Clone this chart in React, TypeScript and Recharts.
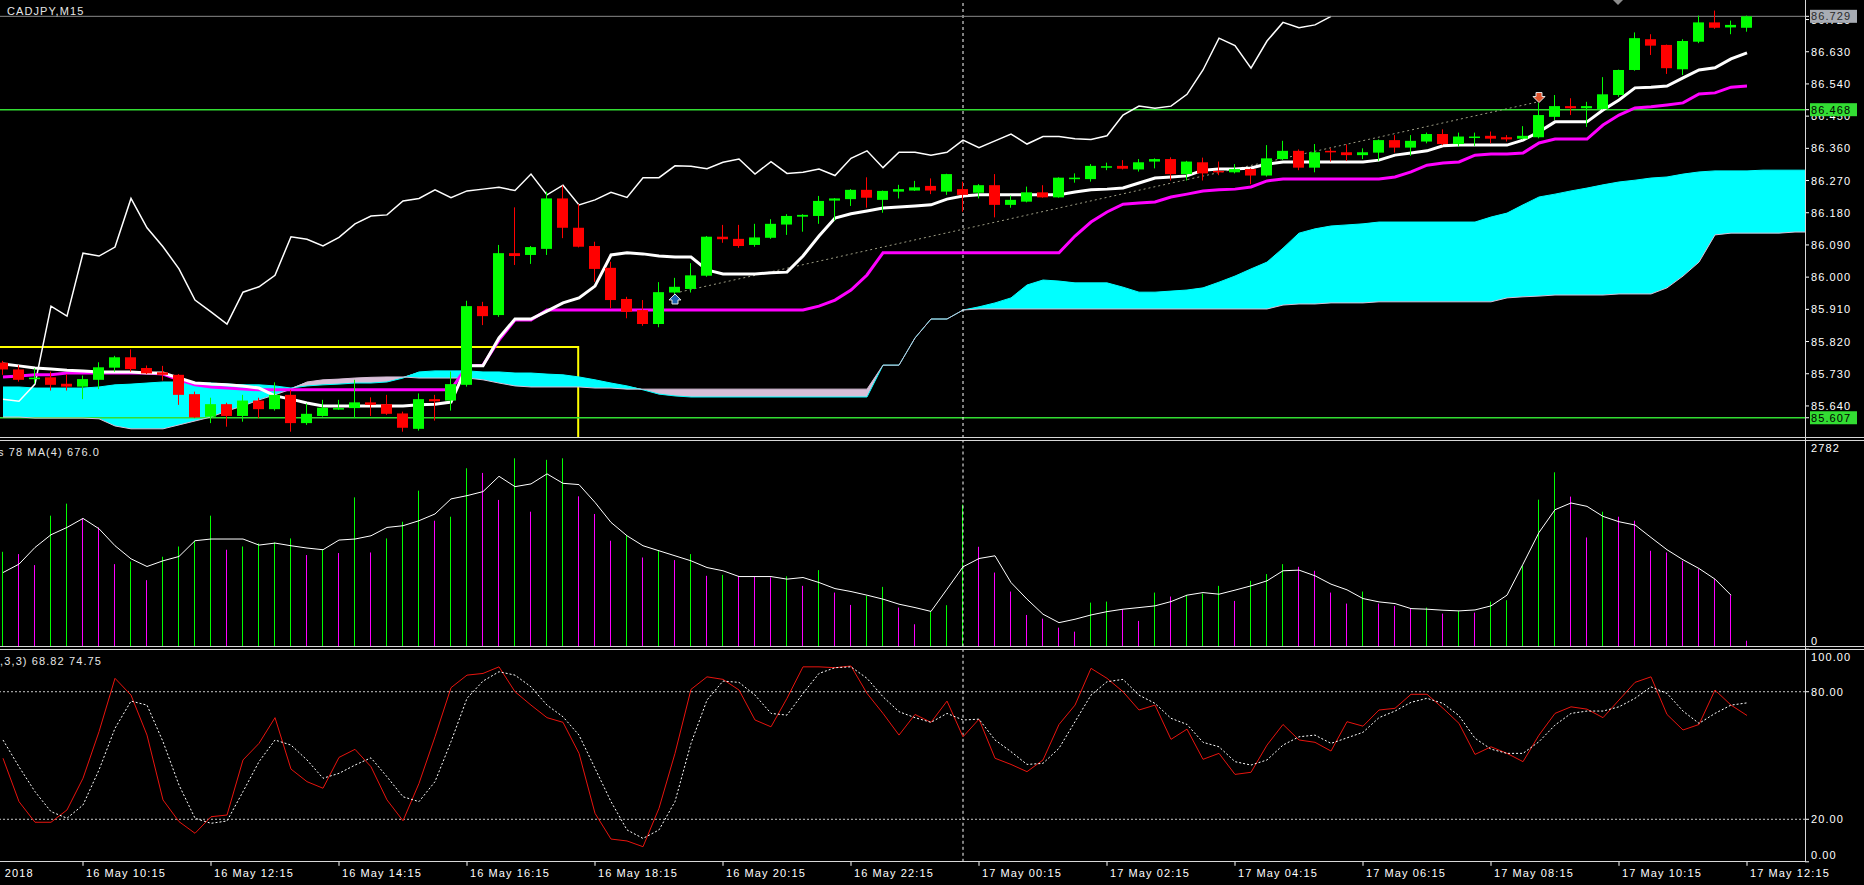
import React from 'react'
import {
  ComposedChart,
  Bar,
  Line,
  Area,
  XAxis,
  YAxis,
  ReferenceLine,
  ReferenceArea,
  ReferenceDot,
} from 'recharts'

// CADJPY M15, bars 16 May 09:00 .. 17 May 12:15 (index 0..109), cloud runs to 113
const OPEN = [
  85.761, 85.742, 85.717, 85.72, 85.702, 85.694, 85.713, 85.747, 85.776, 85.746,
  85.734, 85.727, 85.673, 85.61, 85.645, 85.612, 85.655, 85.631, 85.671, 85.592,
  85.612, 85.631, 85.634, 85.65, 85.645, 85.619, 85.576, 85.659, 85.655, 85.699,
  85.919, 85.894, 86.067, 86.062, 86.079, 86.22, 86.138, 86.087, 86.026, 85.939,
  85.908, 85.869, 85.957, 85.967, 86.004, 86.113, 86.107, 86.09, 86.11, 86.147,
  86.169, 86.171, 86.214, 86.218, 86.244, 86.216, 86.239, 86.242, 86.255, 86.239,
  86.246, 86.236, 86.257, 86.202, 86.211, 86.237, 86.223, 86.275, 86.274, 86.308,
  86.311, 86.301, 86.323, 86.33, 86.288, 86.321, 86.297, 86.293, 86.302, 86.284,
  86.33, 86.353, 86.306, 86.353, 86.349, 86.341, 86.348, 86.383, 86.362, 86.379,
  86.4, 86.372, 86.389, 86.395, 86.391, 86.387, 86.391, 86.448, 86.478, 86.472,
  86.47, 86.509, 86.579, 86.665, 86.649, 86.581, 86.658, 86.712, 86.698, 86.697,
]
const HIGH = [
  85.766, 85.754, 85.745, 85.736, 85.729, 85.725, 85.762, 85.78, 85.798, 85.753,
  85.752, 85.729, 85.68, 85.663, 85.649, 85.671, 85.663, 85.706, 85.685, 85.647,
  85.657, 85.657, 85.713, 85.664, 85.671, 85.624, 85.675, 85.671, 85.736, 85.934,
  85.931, 86.09, 86.195, 86.087, 86.239, 86.256, 86.204, 86.099, 86.043, 85.945,
  85.936, 85.986, 85.998, 86.039, 86.115, 86.146, 86.146, 86.149, 86.162, 86.176,
  86.176, 86.227, 86.221, 86.246, 86.279, 86.242, 86.258, 86.269, 86.276, 86.289,
  86.267, 86.26, 86.288, 86.228, 86.253, 86.257, 86.279, 86.29, 86.316, 86.32,
  86.327, 86.33, 86.332, 86.335, 86.325, 86.334, 86.323, 86.316, 86.304, 86.369,
  86.381, 86.357, 86.372, 86.36, 86.371, 86.36, 86.385, 86.397, 86.397, 86.404,
  86.413, 86.404, 86.404, 86.407, 86.397, 86.422, 86.487, 86.509, 86.5, 86.49,
  86.559, 86.58, 86.684, 86.679, 86.65, 86.665, 86.731, 86.745, 86.717, 86.731,
]
const LOW = [
  85.727, 85.708, 85.703, 85.683, 85.683, 85.659, 85.687, 85.736, 85.736, 85.729,
  85.711, 85.643, 85.606, 85.592, 85.582, 85.596, 85.606, 85.627, 85.568, 85.587,
  85.61, 85.629, 85.606, 85.612, 85.615, 85.568, 85.571, 85.599, 85.627, 85.694,
  85.866, 85.889, 86.034, 86.037, 86.062, 86.109, 86.083, 85.987, 85.913, 85.885,
  85.864, 85.86, 85.95, 85.957, 86.001, 86.096, 86.082, 86.085, 86.107, 86.118,
  86.127, 86.149, 86.158, 86.199, 86.194, 86.18, 86.22, 86.241, 86.232, 86.23,
  86.183, 86.22, 86.167, 86.194, 86.209, 86.222, 86.222, 86.264, 86.267, 86.299,
  86.301, 86.295, 86.304, 86.27, 86.27, 86.27, 86.285, 86.29, 86.26, 86.281,
  86.327, 86.299, 86.293, 86.323, 86.325, 86.33, 86.325, 86.348, 86.339, 86.374,
  86.369, 86.365, 86.367, 86.374, 86.379, 86.385, 86.388, 86.439, 86.453, 86.42,
  86.469, 86.504, 86.577, 86.621, 86.568, 86.565, 86.654, 86.694, 86.679, 86.686,
]
const CLOSE = [
  85.742, 85.713, 85.719, 85.699, 85.694, 85.715, 85.748, 85.776, 85.743, 85.731,
  85.727, 85.671, 85.608, 85.645, 85.612, 85.655, 85.631, 85.671, 85.592, 85.618,
  85.635, 85.634, 85.65, 85.643, 85.618, 85.579, 85.659, 85.653, 85.701, 85.919,
  85.891, 86.067, 86.059, 86.084, 86.22, 86.138, 86.085, 86.023, 85.936, 85.903,
  85.869, 85.958, 85.973, 86.005, 86.113, 86.106, 86.087, 86.111, 86.149, 86.171,
  86.174, 86.213, 86.22, 86.244, 86.222, 86.241, 86.246, 86.251, 86.242, 86.288,
  86.23, 86.257, 86.202, 86.216, 86.237, 86.223, 86.278, 86.278, 86.311, 86.31,
  86.303, 86.321, 86.33, 86.288, 86.323, 86.29, 86.293, 86.302, 86.284, 86.332,
  86.353, 86.306, 86.349, 86.349, 86.341, 86.349, 86.383, 86.362, 86.381, 86.4,
  86.372, 86.393, 86.393, 86.387, 86.385, 86.395, 86.453, 86.478, 86.472, 86.478,
  86.511, 86.579, 86.668, 86.647, 86.584, 86.66, 86.712, 86.697, 86.705, 86.729,
]

// Ichimoku
const TENKAN = [
  85.757, 85.752, 85.746, 85.743, 85.74, 85.738, 85.735, 85.735, 85.735, 85.732,
  85.732, 85.718, 85.704, 85.701, 85.699, 85.696, 85.69, 85.668, 85.659, 85.648,
  85.64, 85.64, 85.64, 85.64, 85.64, 85.64, 85.643, 85.645, 85.651, 85.752,
  85.752, 85.83, 85.883, 85.883, 85.905, 85.928, 85.942, 85.975, 86.062, 86.068,
  86.065, 86.059, 86.056, 86.056, 86.02, 86.009, 86.009, 86.009, 86.012, 86.014,
  86.059, 86.115, 86.165, 86.177, 86.185, 86.193, 86.196, 86.199, 86.202, 86.218,
  86.227, 86.23, 86.23, 86.23, 86.23, 86.23, 86.23, 86.238, 86.244, 86.246,
  86.249, 86.263, 86.277, 86.28, 86.283, 86.299, 86.302, 86.302, 86.305, 86.316,
  86.322, 86.322, 86.322, 86.322, 86.322, 86.322, 86.327, 86.341, 86.347, 86.353,
  86.367, 86.369, 86.369, 86.369, 86.369, 86.383, 86.406, 86.434, 86.434, 86.434,
  86.467, 86.495, 86.529, 86.531, 86.534, 86.557, 86.579, 86.585, 86.61, 86.627,
]
const KIJUN = [
  85.721, 85.724, 85.727, 85.727, 85.732, 85.732, 85.732, 85.732, 85.732, 85.732,
  85.729, 85.713, 85.699, 85.693, 85.69, 85.687, 85.685, 85.685, 85.685, 85.685,
  85.685, 85.685, 85.685, 85.685, 85.685, 85.685, 85.685, 85.685, 85.685, 85.752,
  85.754, 85.824, 85.88, 85.88, 85.908, 85.908, 85.908, 85.908, 85.908, 85.908,
  85.908, 85.908, 85.908, 85.908, 85.908, 85.908, 85.908, 85.908, 85.908, 85.908,
  85.908, 85.919, 85.936, 85.964, 86.006, 86.068, 86.068, 86.068, 86.068, 86.068,
  86.068, 86.068, 86.068, 86.068, 86.068, 86.068, 86.068, 86.115, 86.154, 86.182,
  86.204, 86.207, 86.21, 86.224, 86.232, 86.241, 86.244, 86.246, 86.252, 86.269,
  86.274, 86.274, 86.274, 86.274, 86.274, 86.274, 86.274, 86.28, 86.294, 86.313,
  86.319, 86.322, 86.341, 86.344, 86.344, 86.347, 86.375, 86.386, 86.386, 86.386,
  86.425, 86.453, 86.473, 86.476, 86.481, 86.487, 86.512, 86.515, 86.531, 86.534,
]
const CHIKOU = [
  85.659, 85.653, 85.701, 85.919, 85.891, 86.067, 86.059, 86.084, 86.22, 86.138,
  86.085, 86.023, 85.936, 85.903, 85.869, 85.958, 85.973, 86.005, 86.113, 86.106,
  86.087, 86.111, 86.149, 86.171, 86.174, 86.213, 86.22, 86.244, 86.222, 86.241,
  86.246, 86.251, 86.242, 86.288, 86.23, 86.257, 86.202, 86.216, 86.237, 86.223,
  86.278, 86.278, 86.311, 86.31, 86.303, 86.321, 86.33, 86.288, 86.323, 86.29,
  86.293, 86.302, 86.284, 86.332, 86.353, 86.306, 86.349, 86.349, 86.341, 86.349,
  86.383, 86.362, 86.381, 86.4, 86.372, 86.393, 86.393, 86.387, 86.385, 86.395,
  86.453, 86.478, 86.472, 86.478, 86.511, 86.579, 86.668, 86.647, 86.584, 86.66,
  86.712, 86.697, 86.705, 86.729,
]
const SPAN_A = [
  85.693, 85.693, 85.69, 85.69, 85.69, 85.69, 85.693, 85.699, 85.701, 85.704,
  85.707, 85.707, 85.704, 85.704, 85.701, 85.699, 85.699, 85.696, 85.69, 85.696,
  85.699, 85.701, 85.704, 85.704, 85.707, 85.718, 85.735, 85.738, 85.738, 85.738,
  85.735, 85.735, 85.732, 85.732, 85.729, 85.727, 85.721, 85.713, 85.704, 85.696,
  85.685, 85.673, 85.668, 85.665, 85.665, 85.665, 85.665, 85.665, 85.665, 85.665,
  85.665, 85.665, 85.665, 85.665, 85.665, 85.754, 85.754, 85.83, 85.883, 85.883,
  85.908, 85.917, 85.928, 85.942, 85.978, 85.992, 85.989, 85.984, 85.984, 85.984,
  85.972, 85.958, 85.958, 85.961, 85.964, 85.97, 85.986, 86.003, 86.023, 86.042,
  86.081, 86.123, 86.135, 86.143, 86.146, 86.149, 86.154, 86.154, 86.154, 86.154,
  86.154, 86.154, 86.154, 86.168, 86.179, 86.202, 86.224, 86.232, 86.241, 86.249,
  86.258, 86.266, 86.271, 86.277, 86.28, 86.288, 86.294, 86.297, 86.297, 86.297,
  86.299, 86.299, 86.299, 86.299,
]
const SPAN_B = [
  85.609, 85.609, 85.606, 85.606, 85.606, 85.606, 85.604, 85.584, 85.576, 85.576,
  85.576, 85.587, 85.598, 85.609, 85.626, 85.64, 85.657, 85.671, 85.687, 85.707,
  85.713, 85.715, 85.718, 85.72, 85.721, 85.721, 85.718, 85.718, 85.718, 85.718,
  85.713, 85.704, 85.696, 85.693, 85.693, 85.693, 85.693, 85.69, 85.69, 85.687,
  85.687, 85.687, 85.687, 85.687, 85.687, 85.687, 85.687, 85.687, 85.687, 85.687,
  85.687, 85.687, 85.687, 85.687, 85.687, 85.754, 85.754, 85.83, 85.883, 85.883,
  85.908, 85.911, 85.911, 85.911, 85.911, 85.911, 85.911, 85.911, 85.911, 85.911,
  85.911, 85.911, 85.911, 85.911, 85.911, 85.911, 85.911, 85.911, 85.911, 85.911,
  85.922, 85.925, 85.925, 85.928, 85.928, 85.928, 85.931, 85.931, 85.931, 85.931,
  85.931, 85.931, 85.931, 85.931, 85.942, 85.945, 85.947, 85.95, 85.95, 85.95,
  85.95, 85.953, 85.953, 85.953, 85.97, 86.003, 86.042, 86.118, 86.123, 86.123,
  86.123, 86.123, 86.126, 86.126,
]

// Volumes + MA(4)
const VOLUME = [
  1282, 1251, 1102, 1771, 1934, 1734, 1612, 1115, 1151, 898,
  1215, 1354, 1432, 1771, 1310, 1354, 1395, 1409, 1463, 1238,
  1319, 1265, 2019, 1273, 1463, 1689, 2110, 1703, 1757, 2413,
  2350, 1984, 2548, 1825, 2527, 2548, 2033, 1794, 1432, 1509,
  1205, 1305, 1170, 1251, 957, 970, 955, 945, 935, 950,
  821, 1034, 730, 563, 685, 807, 527, 301, 472, 559,
  1920, 1350, 1001, 744, 427, 377, 255, 201, 594, 608,
  505, 346, 730, 676, 699, 716, 821, 617, 889, 980,
  1115, 1079, 1025, 730, 581, 744, 581, 550, 513, 527,
  445, 482, 459, 608, 627, 1092, 1988, 2358, 2029, 1476,
  1825, 1757, 1703, 1296, 1273, 1160, 1048, 912, 695, 78,
]
const VOLUME_MA = [
  1001, 1115, 1341, 1513, 1612, 1734, 1594, 1364, 1187, 1083,
  1160, 1219, 1432, 1455, 1455, 1455, 1373, 1400, 1364, 1333,
  1310, 1441, 1455, 1499, 1612, 1635, 1703, 1794, 1998, 2042,
  2097, 2304, 2164, 2201, 2337, 2209, 2192, 1951, 1680, 1499,
  1364, 1296, 1228, 1160, 1069, 1025, 947, 947, 947, 912,
  934, 866, 784, 744, 695, 641, 573, 527, 475, 776,
  1079, 1191, 1228, 866, 641, 437, 323, 369, 427, 472,
  505, 527, 550, 608, 695, 730, 708, 763, 821, 889,
  1025, 1034, 957, 844, 767, 649, 604, 581, 513, 505,
  491, 482, 495, 550, 695, 1115, 1544, 1852, 1943, 1897,
  1761, 1689, 1645, 1476, 1310, 1174, 1056, 912, 695,
]

// Stochastic (5,3,3)
const STOCH_MAIN = [
  48.7, 28.3, 18.6, 18.6, 24.4, 39.3, 61.2, 86.3, 78.4, 59.6,
  29.1, 18.9, 13.4, 21.2, 22.0, 47.9, 55.7, 67.8, 43.6, 37.7,
  34.6, 49.1, 52.9, 44.7, 29.1, 19.3, 36.9, 58.8, 81.9, 87.8,
  88.6, 91.7, 80.0, 73.7, 67.8, 65.6, 51.0, 22.8, 10.7, 9.8,
  7.1, 25.2, 51.0, 81.1, 87.0, 85.8, 80.8, 66.7, 63.5, 76.9,
  91.7, 91.7, 91.3, 92.1, 79.2, 69.8, 59.6, 69.3, 65.6, 75.6,
  58.8, 67.1, 48.7, 45.8, 42.4, 47.9, 64.6, 73.7, 91.0, 86.3,
  80.0, 71.4, 73.7, 57.6, 62.4, 48.2, 51.0, 41.1, 42.1, 54.9,
  64.6, 57.3, 56.2, 52.1, 65.9, 63.8, 71.4, 72.2, 78.8, 78.8,
  72.2, 65.1, 50.5, 54.1, 51.0, 47.1, 59.6, 69.8, 72.9, 71.8,
  67.8, 76.1, 84.4, 87.0, 69.3, 62.0, 64.6, 80.8, 73.7, 68.82,
]
const STOCH_SIGNAL = [
  57.3, 44.7, 33.0, 23.6, 20.5, 26.7, 43.2, 62.8, 75.6, 73.7,
  56.5, 36.1, 20.5, 18.1, 19.2, 33.0, 47.1, 57.3, 54.9, 47.9,
  39.3, 41.6, 45.5, 48.9, 40.0, 30.6, 28.3, 37.7, 56.5, 76.9,
  85.0, 89.4, 87.8, 82.3, 73.7, 68.2, 59.6, 44.0, 28.3, 15.0,
  11.0, 15.0, 28.3, 55.7, 76.1, 85.0, 84.4, 78.4, 69.8, 69.0,
  79.2, 88.6, 91.3, 91.7, 86.3, 77.6, 70.6, 67.8, 65.6, 69.8,
  66.7, 67.1, 57.3, 51.8, 45.8, 46.3, 53.4, 65.9, 78.4, 84.7,
  85.8, 78.4, 74.5, 67.5, 64.6, 56.2, 54.1, 47.1, 45.5, 47.9,
  54.9, 58.8, 59.6, 55.7, 58.3, 60.9, 67.8, 70.9, 75.0, 76.9,
  74.5, 68.7, 58.1, 53.0, 51.0, 51.0, 56.5, 64.3, 69.8, 70.9,
  70.9, 72.9, 76.9, 82.3, 79.2, 70.9, 65.1, 69.8, 73.7, 74.75,
]

const PRICE_TICKS = [86.72, 86.63, 86.54, 86.45, 86.36, 86.27, 86.18, 86.09, 86.0, 85.91, 85.82, 85.73, 85.64]
const TIME_TICKS = [-3, 5, 13, 21, 29, 37, 45, 53, 61, 69, 77, 85, 93, 101, 109]
const TIME_TEXT = [
  '16 May 2018', '16 May 10:15', '16 May 12:15', '16 May 14:15', '16 May 16:15',
  '16 May 18:15', '16 May 20:15', '16 May 22:15', '17 May 00:15', '17 May 02:15',
  '17 May 04:15', '17 May 06:15', '17 May 08:15', '17 May 10:15', '17 May 12:15',
]

const BID = 86.729
const LEVEL_HI = 86.468
const LEVEL_LO = 85.607
const BOX_TOP = 85.805
const BOX_END = 35.95
const DAY_SEP = 60
const TREND = [
  { x: 42.3, y: 85.9585 },
  { x: 95.9, y: 86.4895 },
]
const BUY_ARROW = { x: 42, y: 85.939 }
const SELL_ARROW = { x: 96, y: 86.502 }

const W = 1864
const PLOT_R = 1805
const AXIS_W = W - PLOT_R
const X_DOMAIN: [number, number] = [-0.1875, 112.625]
const PRICE_DOMAIN: [number, number] = [85.5504, 86.7746]
const VOL_MAX = 2782

const UP = '#00ff00'
const DOWN = '#ff0000'
const AQUA = '#00ffff'
const THISTLE = '#d8bfd8'
const LEVEL_GREEN = '#33dd33'
const FONT = '"Liberation Sans", Arial, sans-serif'
const SPACING = 1.1

// price tags drawn on the axis, last so they sit over the plain tick labels
const TAGS = [
  { value: LEVEL_LO, bg: LEVEL_GREEN, fg: '#000' },
  { value: LEVEL_HI, bg: LEVEL_GREEN, fg: '#000' },
  { value: BID, bg: '#a8acb4', fg: '#2a2a2a' },
]
const AXIS_TICKS = [...PRICE_TICKS, ...TAGS.map((t) => t.value)]

const mainData = SPAN_A.map((a, i) => ({
  i,
  o: OPEN[i] ?? null,
  h: HIGH[i] ?? null,
  l: LOW[i] ?? null,
  c: CLOSE[i] ?? null,
  tenkan: TENKAN[i] ?? null,
  kijun: KIJUN[i] ?? null,
  chikou: CHIKOU[i] ?? null,
  a,
  b: SPAN_B[i],
}))

const volData = VOLUME.map((v, i) => ({
  i,
  vol: v,
  prev: i > 0 ? VOLUME[i - 1] : 0,
  ma: VOLUME_MA[i] ?? null,
}))

const stochData = STOCH_MAIN.map((m, i) => ({ i, main: m, signal: STOCH_SIGNAL[i] }))

function Candle(props: any) {
  const { x, y, width, height, payload } = props
  if (!payload || payload.h == null || y == null) return null
  const top = Math.min(y, y + height)
  const span = Math.abs(height)
  const { o, h, l, c } = payload
  const toY = (v: number) => top + (h === l ? 0 : ((h - v) / (h - l)) * span)
  const color = c >= o ? UP : DOWN
  const cx = Math.floor(x + width / 2) + 0.5
  const bTop = toY(Math.max(o, c))
  const bBot = toY(Math.min(o, c))
  return (
    <g>
      <line x1={cx} x2={cx} y1={top} y2={top + span} stroke={color} strokeWidth={1} />
      <rect x={cx - 5.5} y={bTop} width={11} height={Math.max(bBot - bTop, 1.5)} fill={color} />
    </g>
  )
}

function VolBar(props: any) {
  const { x, y, width, height, payload } = props
  if (!payload || y == null) return null
  const cx = Math.floor(x + width / 2)
  const color = payload.vol > payload.prev ? UP : '#ff00ff'
  return <rect x={cx} y={Math.min(y, y + height)} width={1} height={Math.abs(height)} fill={color} />
}

function BuyArrow({ cx, cy }: any) {
  return (
    <path
      d={`M${cx} ${cy - 5} L${cx + 6} ${cy + 1} L${cx + 3} ${cy + 1} L${cx + 3} ${cy + 5} L${cx - 3} ${cy + 5} L${cx - 3} ${cy + 1} L${cx - 6} ${cy + 1} Z`}
      fill="#1d62b0"
      stroke="#e6e6e6"
      strokeWidth={1}
    />
  )
}

function SellArrow({ cx, cy }: any) {
  return (
    <path
      d={`M${cx} ${cy + 5} L${cx + 6} ${cy - 1} L${cx + 3} ${cy - 1} L${cx + 3} ${cy - 5} L${cx - 3} ${cy - 5} L${cx - 3} ${cy - 1} L${cx - 6} ${cy - 1} Z`}
      fill="#e0532c"
      stroke="#e6e6e6"
      strokeWidth={1}
    />
  )
}

function PriceTick({ x, y, payload }: any) {
  const tag = TAGS.find((t) => t.value === payload.value)
  const label = payload.value.toFixed(3)
  if (tag) {
    return (
      <g>
        <rect x={x - 1} y={y - 6.5} width={47} height={13} fill={tag.bg} />
        <text x={x} y={y + 4} fill={tag.fg} fontSize={11} fontFamily={FONT} letterSpacing={SPACING}>
          {label}
        </text>
      </g>
    )
  }
  return (
    <text x={x} y={y + 4} fill="#fff" fontSize={11} fontFamily={FONT} letterSpacing={SPACING}>
      {label}
    </text>
  )
}

function VolTick({ x, y, payload }: any) {
  const dy = payload.value === VOL_MAX ? 11 : -2
  return (
    <text x={x} y={y + dy} fill="#fff" fontSize={11} fontFamily={FONT} letterSpacing={SPACING}>
      {payload.value}
    </text>
  )
}

function StochTick({ x, y, payload }: any) {
  const v = payload.value
  const dy = v === 100 ? 12 : v === 0 ? -3 : 4
  return (
    <text x={x} y={y + dy} fill="#fff" fontSize={11} fontFamily={FONT} letterSpacing={SPACING}>
      {v.toFixed(2)}
    </text>
  )
}

function TimeTick({ x, y, payload }: any) {
  const k = TIME_TICKS.indexOf(payload.value)
  return (
    <text x={x + 3} y={y + 9} fill="#fff" fontSize={11} fontFamily={FONT} letterSpacing={SPACING}>
      {TIME_TEXT[k]}
    </text>
  )
}

export default function App() {
  return (
    <div
      style={{
        position: 'absolute',
        left: 0,
        top: 0,
        width: W,
        height: 885,
        background: '#000',
        overflow: 'hidden',
      }}
    >
      {/* price window */}
      <div style={{ position: 'absolute', left: 0, top: 0 }}>
        <ComposedChart width={W} height={438} data={mainData} margin={{ top: 0, right: 0, left: 0, bottom: 0 }}>
          <XAxis type="number" dataKey="i" domain={X_DOMAIN} allowDataOverflow hide />
          <YAxis
            orientation="right"
            width={AXIS_W}
            domain={PRICE_DOMAIN}
            allowDataOverflow
            ticks={AXIS_TICKS}
            interval={0}
            axisLine={false}
            tickLine={{ stroke: '#fff' }}
            tickSize={4}
            tick={<PriceTick />}
          />
          <ReferenceArea
            x1={-2}
            x2={BOX_END}
            y1={85.3}
            y2={BOX_TOP}
            ifOverflow="hidden"
            fill="none"
            stroke="#ffff00"
            strokeWidth={2}
          />
          <ReferenceLine y={LEVEL_LO} stroke={LEVEL_GREEN} strokeWidth={1.5} />
          {/* kumo */}
          <Area
            type="linear"
            dataKey={(d: any) => [d.b, Math.max(d.a, d.b)]}
            stroke="none"
            fill={AQUA}
            fillOpacity={1}
            isAnimationActive={false}
            activeDot={false}
          />
          <Area
            type="linear"
            dataKey={(d: any) => [d.a, Math.max(d.a, d.b)]}
            stroke="none"
            fill={THISTLE}
            fillOpacity={1}
            isAnimationActive={false}
            activeDot={false}
          />
          <Line type="linear" dataKey="a" stroke={AQUA} strokeWidth={1} dot={false} activeDot={false} isAnimationActive={false} />
          <Line type="linear" dataKey="b" stroke={THISTLE} strokeWidth={1} dot={false} activeDot={false} isAnimationActive={false} />
          <ReferenceLine
            segment={[
              { x: -0.2, y: LEVEL_LO },
              { x: 12.8, y: LEVEL_LO },
            ]}
            stroke="#1c3ab8"
            strokeWidth={1.5}
          />
          <ReferenceLine y={LEVEL_HI} stroke={LEVEL_GREEN} strokeWidth={1.5} />
          <ReferenceLine segment={TREND} stroke="#9c9c84" strokeWidth={1} strokeDasharray="2 3" />
          <ReferenceLine x={DAY_SEP} stroke="#fff" strokeDasharray="3 3" strokeWidth={1} />
          <Line type="linear" dataKey="chikou" stroke="#fff" strokeWidth={1.5} dot={false} activeDot={false} isAnimationActive={false} />
          <Line type="linear" dataKey="kijun" stroke="#ff00ff" strokeWidth={3} dot={false} activeDot={false} isAnimationActive={false} />
          <Line type="linear" dataKey="tenkan" stroke="#fff" strokeWidth={3} dot={false} activeDot={false} isAnimationActive={false} />
          <Bar
            dataKey={(d: any) => (d.h == null ? null : [d.l, d.h])}
            barSize={11}
            shape={<Candle />}
            isAnimationActive={false}
            zIndex={450}
          />
          <ReferenceDot x={BUY_ARROW.x} y={BUY_ARROW.y} shape={<BuyArrow />} zIndex={460} />
          <ReferenceDot x={SELL_ARROW.x} y={SELL_ARROW.y} shape={<SellArrow />} zIndex={460} />
          <ReferenceLine y={BID} stroke="#8a8a8a" strokeWidth={1} />
        </ComposedChart>
      </div>

      {/* volumes window */}
      <div style={{ position: 'absolute', left: 0, top: 438 }}>
        <ComposedChart width={W} height={211} data={volData} margin={{ top: 3, right: 0, left: 0, bottom: 2.5 }}>
          <XAxis type="number" dataKey="i" domain={X_DOMAIN} allowDataOverflow hide />
          <YAxis
            orientation="right"
            width={AXIS_W}
            domain={[0, VOL_MAX]}
            allowDataOverflow
            ticks={[0, VOL_MAX]}
            interval={0}
            axisLine={false}
            tickLine={false}
            tickSize={4}
            tick={<VolTick />}
          />
          <ReferenceLine x={DAY_SEP} stroke="#fff" strokeDasharray="3 3" strokeWidth={1} />
          <Bar dataKey="vol" barSize={1} shape={<VolBar />} isAnimationActive={false} />
          <Line type="linear" dataKey="ma" stroke="#fff" strokeWidth={1} dot={false} activeDot={false} isAnimationActive={false} />
        </ComposedChart>
      </div>

      {/* stochastic window */}
      <div style={{ position: 'absolute', left: 0, top: 645 }}>
        <ComposedChart width={W} height={240} data={stochData} margin={{ top: 4.2, right: 0, left: 0, bottom: 0 }}>
          <XAxis
            type="number"
            dataKey="i"
            domain={X_DOMAIN}
            allowDataOverflow
            ticks={TIME_TICKS}
            interval={0}
            height={23.2}
            axisLine={false}
            tickLine={{ stroke: '#fff' }}
            tickSize={4}
            tick={<TimeTick />}
          />
          <YAxis
            orientation="right"
            width={AXIS_W}
            domain={[0, 100]}
            allowDataOverflow
            ticks={[0, 20, 80, 100]}
            interval={0}
            axisLine={false}
            tickLine={{ stroke: '#fff' }}
            tickSize={4}
            tick={<StochTick />}
          />
          <ReferenceLine y={80} stroke="#c8c8c8" strokeDasharray="2 2" />
          <ReferenceLine y={20} stroke="#c8c8c8" strokeDasharray="2 2" />
          <ReferenceLine x={DAY_SEP} stroke="#fff" strokeDasharray="3 3" strokeWidth={1} />
          <Line type="linear" dataKey="main" stroke="#e8140e" strokeWidth={1} dot={false} activeDot={false} isAnimationActive={false} />
          <Line
            type="linear"
            dataKey="signal"
            stroke="#fff"
            strokeWidth={1}
            strokeDasharray="2 2"
            dot={false}
            activeDot={false}
            isAnimationActive={false}
          />
        </ComposedChart>
      </div>

      {/* window frames and captions */}
      <svg
        width={W}
        height={885}
        style={{ position: 'absolute', left: 0, top: 0, pointerEvents: 'none' }}
      >
        <g stroke="#d8d8d8" strokeWidth={1}>
          <line x1={0} x2={W} y1={437.5} y2={437.5} />
          <line x1={0} x2={W} y1={440.5} y2={440.5} />
          <line x1={0} x2={W} y1={646.5} y2={646.5} />
          <line x1={0} x2={W} y1={649.5} y2={649.5} />
          <line x1={0} x2={PLOT_R + 0.5} y1={861.5} y2={861.5} />
          <line x1={PLOT_R + 0.5} x2={PLOT_R + 0.5} y1={0} y2={862} />
        </g>
        <polygon points="1613,0 1623,0 1618,5" fill="#8c8c8c" />
        <g fill="#e6e6e6" fontSize={11} fontFamily={FONT} letterSpacing={SPACING}>
          <text x={7} y={15}>CADJPY,M15</text>
          <text x={100} y={456} textAnchor="end">Volumes 78 MA(4) 676.0</text>
          <text x={102} y={665} textAnchor="end">Stoch(5,3,3) 68.82 74.75</text>
        </g>
      </svg>
    </div>
  )
}
